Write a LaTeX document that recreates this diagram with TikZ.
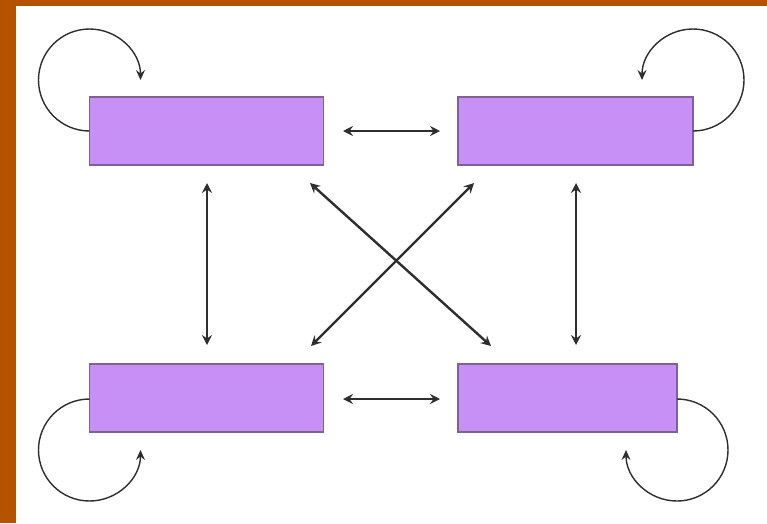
\documentclass[tikz,border=0pt]{standalone}
\usetikzlibrary{arrows.meta}
\definecolor{frameorange}{HTML}{B45200}
\definecolor{boxfill}{HTML}{C690F6}
\definecolor{boxline}{HTML}{7E6290}
\definecolor{linkgrey}{HTML}{2E2E2E}
\tikzset{
  x=1pt, y=-1pt,
  statebox/.style={draw=boxline, line width=1.2pt, fill=boxfill, minimum width=234pt, minimum height=68pt, inner sep=0pt, outer sep=0pt},
  link/.style={linkgrey, line width=2.4pt, {Stealth[length=10pt,width=10pt,inset=3.5pt]}-{Stealth[length=10pt,width=10pt,inset=3.5pt]}},
  selfloop/.style={linkgrey, line width=1.4pt, -{Stealth[length=10pt,width=9pt,inset=3.5pt]}}
}
\begin{document}
\begin{tikzpicture}
  % background frame
  \useasboundingbox (0,0) rectangle (767,523);
  \fill[frameorange] (0,0) rectangle (767,523);
  \fill[white] (16,6) rectangle (767,523);

  % four states
  \node[statebox, minimum width=234pt] (tl) at (206.5,131) {};
  \node[statebox, minimum width=235pt] (tr) at (575.5,131) {};
  \node[statebox, minimum width=234pt] (bl) at (206.5,398) {};
  \node[statebox, minimum width=219pt] (br) at (567.5,398) {};

  % anchors for the connectors
  \coordinate (h1a) at (343,131);  \coordinate (h1b) at (440,131);
  \coordinate (h2a) at (343,399);  \coordinate (h2b) at (440,399);
  \coordinate (v1a) at (207,183);  \coordinate (v1b) at (207,345);
  \coordinate (v2a) at (576,183);  \coordinate (v2b) at (576,345);
  \coordinate (d1a) at (310,183);  \coordinate (d1b) at (491,346);
  \coordinate (d2a) at (474,183);  \coordinate (d2b) at (311,346);

  % two-way links
  \draw[link] (h1a) -- (h1b);
  \draw[link] (h2a) -- (h2b);
  \draw[link] (v1a) -- (v1b);
  \draw[link] (v2a) -- (v2b);
  \draw[link] (d1a) -- (d1b);
  \draw[link] (d2a) -- (d2b);

  % self loops
  \draw[selfloop] (tl.west |- 0,131) arc[start angle=90, end angle=360, radius=51];
  \draw[selfloop] (tr.east |- 0,131) arc[start angle=90, end angle=-180, radius=51];
  \draw[selfloop] (bl.west |- 0,399) arc[start angle=-90, end angle=-360, radius=51];
  \draw[selfloop] (br.east |- 0,399) arc[start angle=-90, end angle=180, radius=51];
\end{tikzpicture}
\end{document}
